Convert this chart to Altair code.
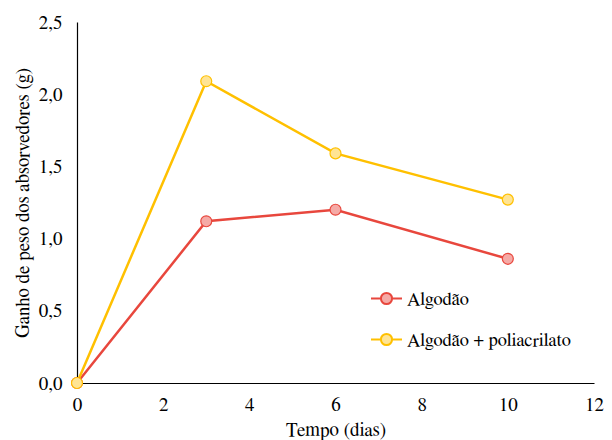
import altair as alt
import pandas as pd

dias = [0, 3, 6, 10]
algodao = [0.0, 1.12, 1.20, 0.86]
algodao_poli = [0.0, 2.09, 1.59, 1.27]
series_names = ["Algodão", "Algodão + poliacrilato"]
line_colors = ["#E8473D", "#FFC000"]
fill_colors = ["#F5AAA6", "#FFE494"]

FONT = "Nimbus Roman, Nimbus Roman No9 L, FreeSerif, Tinos, Times, DejaVu Serif"

rows = []
for name, vals in zip(series_names, [algodao, algodao_poli]):
    for d, v in zip(dias, vals):
        rows.append({"dias": d, "ganho": v, "serie": name})
df = pd.DataFrame(rows)

r = 0.36
legend_path = (f"M-1,0H{-r} M{r},0H1 "
               f"M{-r},0A{r},{r} 0 1,1 {r},0A{r},{r} 0 1,1 {-r},0Z")

legend = alt.Legend(
    title=None, orient="none", legendX=293, legendY=260, padding=0,
    symbolType=legend_path, symbolSize=961, symbolStrokeWidth=2,
    labelFont=FONT, labelFontSize=18.5, labelColor="black",
    labelOffset=4, rowPadding=14, labelLimit=400,
)

x = alt.X("dias:Q", scale=alt.Scale(domain=[0, 12], nice=False),
          axis=alt.Axis(values=[0, 2, 4, 6, 8, 10, 12], title="Tempo (dias)",
                        grid=False, ticks=False, labelPadding=12, titlePadding=6,
                        labelFlush=False, labelOverlap=False))
y = alt.Y("ganho:Q", scale=alt.Scale(domain=[0, 2.5], nice=False),
          axis=alt.Axis(values=[0, 0.5, 1.0, 1.5, 2.0, 2.5],
                        labelExpr="replace(format(datum.value, '.1f'), '.', ',')",
                        title="Ganho de peso dos absorvedores (g)",
                        grid=False, ticks=False, labelPadding=15, titlePadding=6,
                        labelFlush=False, labelOverlap=False))

stroke = alt.Stroke("serie:N", scale=alt.Scale(domain=series_names, range=line_colors), legend=legend)
fill = alt.Fill("serie:N", scale=alt.Scale(domain=series_names, range=fill_colors), legend=legend)

lines = alt.Chart(df).mark_line(strokeWidth=2.5).encode(x=x, y=y, stroke=stroke)
points = alt.Chart(df).mark_point(shape="circle", filled=False, size=120, strokeWidth=1.2,
                                  opacity=1, fillOpacity=1).encode(
    x=x, y=y, stroke=stroke, fill=fill)

chart = alt.layer(lines, points).properties(
    width=517, height=361,
    padding={"left": 77, "top": 22, "right": 18, "bottom": 57},
    autosize=alt.AutoSizeParams(type="none"),
).configure_view(stroke=None).configure_axis(
    labelFont=FONT, labelFontSize=19, labelColor="black",
    titleFont=FONT, titleFontSize=19, titleFontWeight="normal", titleColor="black",
    domainColor="black", domainWidth=1.2,
)

chart.save("out.html", embed_options={"renderer": "svg", "actions": False})
